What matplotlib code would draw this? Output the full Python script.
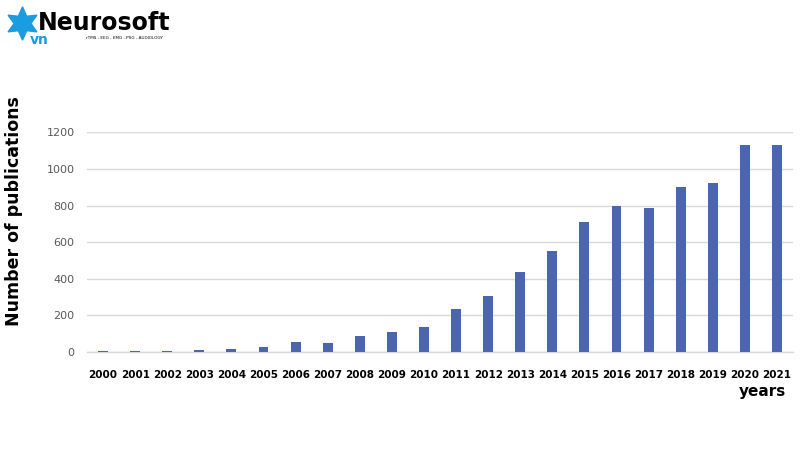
import numpy as np
import matplotlib.pyplot as plt
from matplotlib.lines import Line2D

years = ['2000', '2001', '2002', '2003', '2004', '2005', '2006', '2007',
         '2008', '2009', '2010', '2011', '2012', '2013', '2014', '2015',
         '2016', '2017', '2018', '2019', '2020', '2021']
publications = [3, 3, 5, 10, 16, 25, 54, 46, 84, 106, 135, 232, 306, 437,
                554, 709, 800, 788, 903, 926, 1129, 1132]
y_ticks = [0, 200, 400, 600, 800, 1000, 1200]

fig = plt.figure(figsize=(8, 4.5), dpi=100)
ax = fig.add_axes([0.10875, 0.2184, 0.8825, 0.4880])

x = np.arange(len(years))
ax.bar(x, publications, width=0.31, color='#4a66ac', zorder=3)

ax.set_xlim(-0.5, len(years) - 0.5)
ax.set_ylim(0, 1202)
ax.set_yticks(y_ticks)
ax.set_yticklabels([str(v) for v in y_ticks], color='#595959', fontsize=8)
ax.set_xticks(x)
ax.set_xticklabels(years, fontsize=7.5, fontweight='bold', color='black')
ax.tick_params(axis='both', length=0)
ax.tick_params(axis='x', pad=13)
ax.tick_params(axis='y', pad=9)

ax.grid(axis='y', color='#d9d9d9', linewidth=1, zorder=0)
for s in ['top', 'right', 'left']:
    ax.spines[s].set_visible(False)
ax.spines['bottom'].set_color('#d9d9d9')
ax.spines['bottom'].set_linewidth(1)

fig.text(0.018, 0.531, 'Number of publications', rotation=90, fontsize=12.5,
         fontweight='bold', ha='center', va='center')
fig.text(0.953, 0.131, 'years', fontsize=11, fontweight='bold',
         ha='center', va='center')

# logo
fig.add_artist(Line2D([0.028], [0.948], marker=(6, 1, 0), markersize=24,
                      color='#1a9ce0', transform=fig.transFigure))
fig.text(0.037, 0.912, 'vn', fontsize=10, fontweight='bold', color='#1a9ce0',
         ha='left', va='center')
fig.text(0.047, 0.950, 'Neurosoft', fontsize=17, fontweight='bold',
         color='black', ha='left', va='center')
fig.text(0.107, 0.915, 'rTMS - EEG - EMG - PSG - AUDIOLOGY', fontsize=3,
         color='black', ha='left', va='center')

plt.savefig('out.png', dpi=100)
